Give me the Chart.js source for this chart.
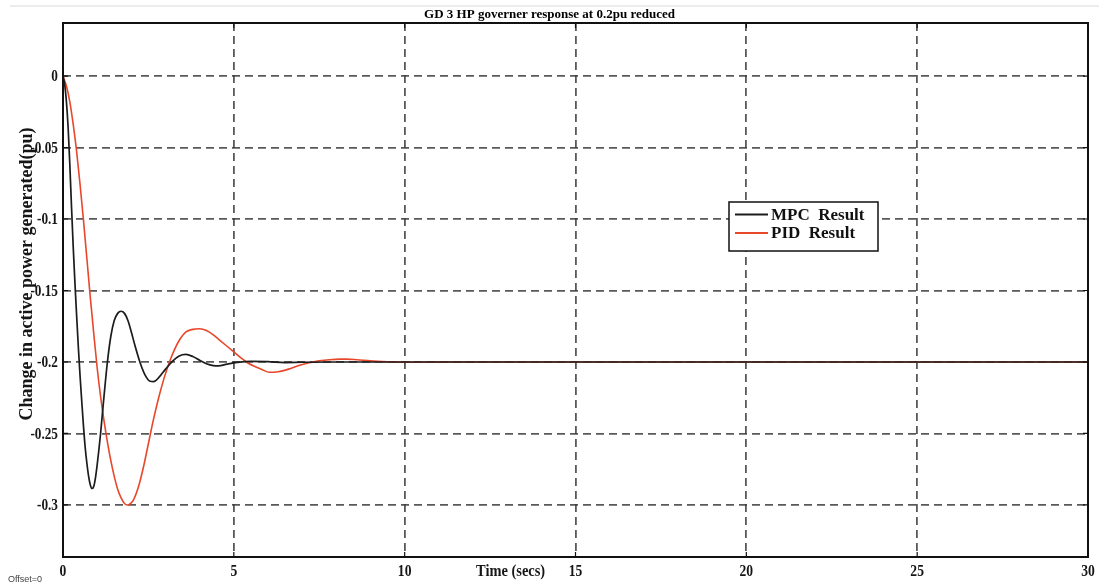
<!DOCTYPE html>
<html>
<head>
<meta charset="utf-8">
<script src="https://cdn.jsdelivr.net/npm/chart.js@4.4.1/dist/chart.umd.min.js"></script>
<style>
  html, body { margin: 0; padding: 0; background: #ffffff; }
  #wrap { width: 1099px; height: 587px; position: relative; }
</style>
</head>
<body>
<div id="wrap"><canvas id="chart"></canvas></div>
<script>
// Governor response of GD 3 HP unit after a 0.2 pu reduction
const chartTitle = 'GD 3 HP governer response at 0.2pu reduced';
const xAxisTitle = 'Time (secs)';
const yAxisTitle = 'Change in active power generated(pu)';
const footNote = 'Offset=0';
const seriesNames = ['MPC  Result', 'PID  Result'];
const seriesColors = ['#1c1c1c', '#e8472b'];

// MPC controller response (time in s, change in pu)
const mpcTime = [0, 0.05, 0.1, 0.15, 0.2, 0.25, 0.3, 0.35, 0.4, 0.45, 0.5, 0.55, 0.6, 0.65, 0.7, 0.75, 0.8, 0.85, 0.9, 0.95,
  1.0, 1.1, 1.2, 1.3, 1.4, 1.5, 1.6, 1.7, 1.8, 1.9, 2.0, 2.1, 2.25, 2.4, 2.55, 2.65, 2.8, 3.0, 3.2, 3.4, 3.6, 3.8,
  4.0, 4.2, 4.4, 4.55, 4.8, 5.1, 5.5, 6.0, 6.5, 7.0, 8.0, 9.0, 10, 12, 15, 20, 25, 30];
const mpcValues = [0, -0.006, -0.018, -0.036, -0.062, -0.092, -0.12, -0.145, -0.168, -0.19, -0.21, -0.228, -0.245, -0.26, -0.271, -0.28, -0.286, -0.2885, -0.287, -0.281,
  -0.272, -0.25, -0.224, -0.2, -0.182, -0.171, -0.166, -0.1645, -0.166, -0.171, -0.179, -0.188, -0.2, -0.209, -0.2135, -0.2138, -0.211, -0.205, -0.1995, -0.1958, -0.1947, -0.1962,
  -0.1988, -0.2012, -0.2025, -0.2027, -0.2015, -0.2003, -0.1996, -0.1998, -0.2004, -0.2002, -0.2, -0.2, -0.2, -0.2, -0.2, -0.2, -0.2, -0.2];

// PID controller response (time in s, change in pu)
const pidTime = [0, 0.1, 0.2, 0.3, 0.4, 0.5, 0.6, 0.7, 0.8, 0.9, 1.0, 1.1, 1.2, 1.3, 1.4, 1.5, 1.6, 1.7, 1.8, 1.88, 1.95,
  2.05, 2.2, 2.35, 2.5, 2.65, 2.8, 2.95, 3.1, 3.25, 3.4, 3.6, 3.8, 4.0, 4.2, 4.4, 4.6, 4.8, 5.0, 5.2, 5.4, 5.6, 5.8,
  6.05, 6.3, 6.6, 6.9, 7.2, 7.5, 7.8, 8.1, 8.3, 8.6, 9.0, 9.5, 10, 11, 12, 15, 20, 25, 30];
const pidValues = [0, -0.007, -0.018, -0.034, -0.053, -0.076, -0.101, -0.128, -0.155, -0.18, -0.204, -0.224, -0.241, -0.256, -0.269, -0.28, -0.289, -0.295, -0.299, -0.3, -0.2995,
  -0.297, -0.288, -0.274, -0.257, -0.24, -0.225, -0.212, -0.201, -0.192, -0.185, -0.179, -0.1772, -0.1768, -0.178, -0.181, -0.185, -0.189, -0.193, -0.197, -0.2005, -0.203, -0.205,
  -0.2072, -0.2068, -0.205, -0.2025, -0.2005, -0.1992, -0.1984, -0.198, -0.198, -0.1984, -0.1992, -0.1998, -0.2002, -0.2001, -0.2, -0.2, -0.2, -0.2, -0.2];

// Axis ticks
const xTicks = [0, 5, 10, 15, 20, 25, 30];
const xTickLabels = ['0', '5', '10', '15', '20', '25', '30'];
const yTicks = [0, -0.05, -0.1, -0.15, -0.2, -0.25, -0.3];
const yTickLabels = ['0', '-0.05', '-0.1', '-0.15', '-0.2', '-0.25', '-0.3'];
const xRange = [0, 30];
const yRange = [-0.3364, 0.0371];

const toPoints = (t, v) => t.map((x, i) => ({ x: x, y: v[i] }));

const serif = '"Liberation Serif", "Times New Roman", serif';

// Frame, inward tick marks, tick labels, titles and the boxed legend
const decorations = {
  id: 'decorations',
  afterDraw(chart) {
    const { ctx, chartArea: a, scales } = chart;
    const xs = scales.x, ys = scales.y;
    ctx.save();

    // faint rule along the very top
    ctx.strokeStyle = '#ececec';
    ctx.lineWidth = 2;
    ctx.beginPath(); ctx.moveTo(10, 6); ctx.lineTo(chart.width, 6); ctx.stroke();

    // plot frame
    ctx.strokeStyle = '#111111';
    ctx.lineWidth = 2;
    ctx.strokeRect(a.left, a.top, a.right - a.left, a.bottom - a.top);

    // inward tick marks on all sides
    ctx.lineWidth = 1.2;
    ctx.beginPath();
    xTicks.forEach(v => {
      const px = xs.getPixelForValue(v);
      ctx.moveTo(px, a.bottom); ctx.lineTo(px, a.bottom - 5);
      ctx.moveTo(px, a.top); ctx.lineTo(px, a.top + 5);
    });
    yTicks.forEach(v => {
      const py = ys.getPixelForValue(v);
      ctx.moveTo(a.left, py); ctx.lineTo(a.left + 5, py);
      ctx.moveTo(a.right, py); ctx.lineTo(a.right - 5, py);
    });
    ctx.stroke();

    // tick labels (narrow bold serif)
    ctx.fillStyle = '#161616';
    ctx.font = 'bold 17px ' + serif;
    ctx.textBaseline = 'middle';
    ctx.textAlign = 'center';
    xTicks.forEach((v, i) => {
      ctx.save();
      ctx.translate(xs.getPixelForValue(v), a.bottom + 15);
      ctx.scale(0.8, 1);
      ctx.fillText(xTickLabels[i], 0, 0);
      ctx.restore();
    });
    ctx.textAlign = 'right';
    yTicks.forEach((v, i) => {
      ctx.save();
      ctx.translate(a.left - 5, ys.getPixelForValue(v) + 1);
      ctx.scale(0.78, 1);
      ctx.fillText(yTickLabels[i], 0, 0);
      ctx.restore();
    });

    // x-axis title, set in the tick-label row
    ctx.save();
    ctx.textAlign = 'center';
    ctx.translate(xs.getPixelForValue(13.1), a.bottom + 15);
    ctx.scale(0.85, 1);
    ctx.font = 'bold 17px ' + serif;
    ctx.fillText(xAxisTitle, 0, 0);
    ctx.restore();

    // y-axis title
    ctx.save();
    ctx.translate(27, 274);
    ctx.rotate(-Math.PI / 2);
    ctx.textAlign = 'center';
    ctx.font = 'bold 18px ' + serif;
    ctx.fillText(yAxisTitle, 0, 0);
    ctx.restore();

    // chart title
    ctx.fillStyle = '#000000';
    ctx.font = 'bold 13px ' + serif;
    ctx.textAlign = 'center';
    ctx.textBaseline = 'alphabetic';
    ctx.fillText(chartTitle, chart.width / 2, 18);

    // small footnote
    ctx.fillStyle = '#444444';
    ctx.font = '9px "Liberation Sans", Arial, sans-serif';
    ctx.textAlign = 'left';
    ctx.textBaseline = 'middle';
    ctx.fillText(footNote, 8, 580);

    // legend box
    const lx = a.left + 666, ly = a.top + 179, lw = 149, lh = 49;
    ctx.fillStyle = '#ffffff';
    ctx.fillRect(lx, ly, lw, lh);
    ctx.strokeStyle = '#111111';
    ctx.lineWidth = 1.5;
    ctx.strokeRect(lx, ly, lw, lh);
    ctx.font = 'bold 17px ' + serif;
    ctx.textBaseline = 'middle';
    chart.data.datasets.forEach((ds, i) => {
      const cy = ly + 12.5 + i * 18.5;
      ctx.strokeStyle = ds.borderColor;
      ctx.lineWidth = 2;
      ctx.beginPath(); ctx.moveTo(lx + 6, cy); ctx.lineTo(lx + 39, cy); ctx.stroke();
      ctx.fillStyle = '#111111';
      ctx.fillText(ds.label, lx + 42, cy + 1);
    });

    ctx.restore();
  }
};

new Chart(document.getElementById('chart'), {
  type: 'line',
  data: {
    datasets: [
      { label: seriesNames[0], data: toPoints(mpcTime, mpcValues), borderColor: seriesColors[0], borderWidth: 1.7,
        pointRadius: 0, fill: false, cubicInterpolationMode: 'monotone' },
      { label: seriesNames[1], data: toPoints(pidTime, pidValues), borderColor: seriesColors[1], borderWidth: 1.6,
        pointRadius: 0, fill: false, cubicInterpolationMode: 'monotone' }
    ]
  },
  options: {
    responsive: true,
    maintainAspectRatio: false,
    animation: false,
    layout: { padding: { top: 23, left: 0, right: 11, bottom: 0 } },
    plugins: { legend: { display: false }, title: { display: false }, tooltip: { enabled: false } },
    scales: {
      x: {
        type: 'linear', min: xRange[0], max: xRange[1],
        afterBuildTicks: s => { s.ticks = xTicks.map(v => ({ value: v })); },
        afterFit: s => { s.height = 30; },
        ticks: { display: false },
        grid: { color: 'rgba(60,60,60,0.85)', lineWidth: 1.8, drawTicks: false },
        border: { display: false, dash: [8, 5] }
      },
      y: {
        type: 'linear', min: yRange[0], max: yRange[1],
        afterBuildTicks: s => { s.ticks = yTicks.map(v => ({ value: v })); },
        afterFit: s => { s.width = 63; },
        ticks: { display: false },
        grid: { color: 'rgba(60,60,60,0.85)', lineWidth: 1.8, drawTicks: false },
        border: { display: false, dash: [8, 5] }
      }
    }
  },
  plugins: [decorations]
});
</script>
</body>
</html>
